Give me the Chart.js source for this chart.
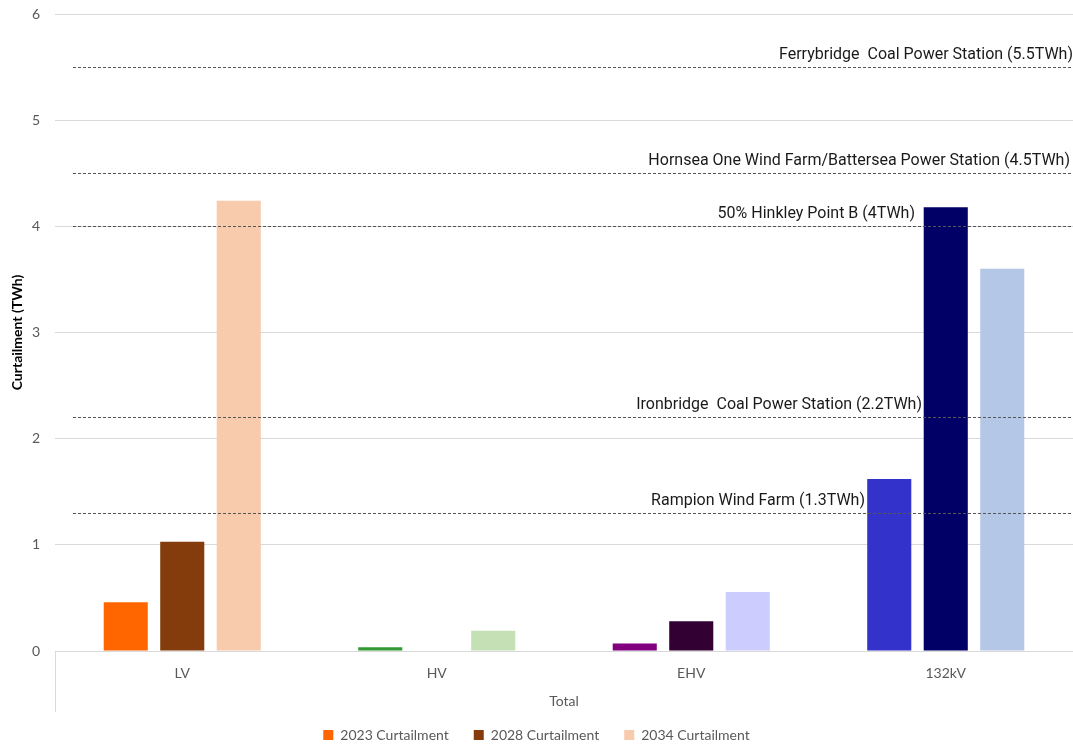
<!DOCTYPE html>
<html>
<head>
<meta charset="utf-8">
<script src="https://cdn.jsdelivr.net/npm/chart.js@4"></script>
<style>
  html, body { margin: 0; padding: 0; background: #fff; }
  #wrap { width: 1073px; height: 747px; }
</style>
</head>
<body>
<div id="wrap"><canvas id="grafico"></canvas></div>
<script>
// Dados de curtailment por nível de tensão (TWh)
const categorias = ['LV', 'HV', 'EHV', '132kV'];
const curt2023 = [0.46, 0.035, 0.07, 1.62];
const curt2028 = [1.03, 0, 0.28, 4.18];
const curt2034 = [4.24, 0.19, 0.555, 3.6];

// Cada nível de tensão tem sua própria paleta
const cores2023 = ['#FF6600', '#339933', '#800080', '#3333CC'];
const cores2028 = ['#843C0C', '#2E7D32', '#330033', '#000066'];
const cores2034 = ['#F8CBAD', '#C5E0B4', '#CCCCFF', '#B4C7E7'];

// Linhas de referência (usinas)
const refNomes = [
  'Ferrybridge  Coal Power Station (5.5TWh)',
  'Hornsea One Wind Farm/Battersea Power Station (4.5TWh)',
  '50% Hinkley Point B (4TWh)',
  'Ironbridge  Coal Power Station (2.2TWh)',
  'Rampion Wind Farm (1.3TWh)'
];
const refValores = [5.5, 4.5, 4, 2.2, 1.3];

const cinza = '#595959';

function corPorBarra(cores) {
  return c => c.type === 'data' ? cores[c.dataIndex] : cores[0];
}

// Legenda com altura fixa (o espaçamento entre itens é grande)
const alturaLegenda = {
  id: 'alturaLegenda',
  beforeUpdate(chart) {
    const lg = chart.legend;
    if (lg && !lg._alturaFixa) {
      const fitOriginal = lg.fit.bind(lg);
      lg.fit = function() {
        fitOriginal();
        this.height = 44;
      };
      lg._alturaFixa = true;
    }
  }
};

// Desenha as linhas tracejadas, o separador do eixo X e o rótulo "Total"
const linhasReferencia = {
  id: 'linhasReferencia',
  afterDatasetsDraw(chart, args, opts) {
    const { ctx, chartArea, scales: { y } } = chart;
    ctx.save();
    ctx.strokeStyle = '#555';
    ctx.lineWidth = 1;
    ctx.setLineDash([3, 2]);
    ctx.font = '16px Roboto';
    ctx.fillStyle = '#1a1a1a';
    ctx.textAlign = 'right';
    ctx.textBaseline = 'bottom';
    refValores.forEach((v, i) => {
      const py = Math.round(y.getPixelForValue(v)) + 0.5;
      ctx.beginPath();
      ctx.moveTo(chartArea.left + 18, py);
      ctx.lineTo(chartArea.right, py);
      ctx.stroke();
      ctx.fillText(refNomes[i], opts.fimRotulos[i], py - 5);
    });
    ctx.restore();
  },
  afterDraw(chart) {
    const { ctx, chartArea } = chart;
    ctx.save();
    ctx.strokeStyle = '#d9d9d9';
    ctx.lineWidth = 1;
    ctx.beginPath();
    ctx.moveTo(chartArea.left + 0.5, chartArea.bottom);
    ctx.lineTo(chartArea.left + 0.5, chartArea.bottom + 61);
    ctx.stroke();
    ctx.font = '14px Lato';
    ctx.fillStyle = cinza;
    ctx.textAlign = 'center';
    ctx.textBaseline = 'middle';
    ctx.fillText('Total', (chartArea.left + chartArea.right) / 2, chartArea.bottom + 50);
    ctx.restore();
  }
};

const ctx = document.getElementById('grafico').getContext('2d');
new Chart(ctx, {
  type: 'bar',
  data: {
    labels: categorias,
    datasets: [
      { label: '2023 Curtailment', data: curt2023, backgroundColor: corPorBarra(cores2023) },
      { label: '2028 Curtailment', data: curt2028, backgroundColor: corPorBarra(cores2028) },
      { label: '2034 Curtailment', data: curt2034, backgroundColor: corPorBarra(cores2034) }
    ]
  },
  options: {
    responsive: true,
    maintainAspectRatio: false,
    animation: false,
    layout: { padding: { top: 14, right: 0, left: 0, bottom: 0 } },
    datasets: {
      bar: { categoryPercentage: 0.666, barPercentage: 0.78 }
    },
    scales: {
      x: {
        grid: { display: false, drawTicks: false },
        border: { display: true, color: '#d9d9d9' },
        ticks: { padding: 14, color: cinza, font: { family: 'Lato', size: 14 } },
        afterFit: s => { s.height = 52; }
      },
      y: {
        min: 0,
        max: 6,
        ticks: { stepSize: 1, padding: 15, color: cinza, font: { family: 'Lato', size: 14 } },
        grid: { color: '#d9d9d9', drawTicks: false },
        border: { display: false },
        title: {
          display: true,
          text: 'Curtailment (TWh)',
          color: '#000',
          font: { family: 'Lato', size: 14, weight: 'bold' },
          padding: { top: 9, bottom: 0 }
        },
        afterFit: s => {
          s.width = 55;
          s.paddingTop = 0;
          s.paddingBottom = 0;
        }
      }
    },
    plugins: {
      legend: {
        position: 'bottom',
        labels: {
          boxWidth: 10,
          boxHeight: 10,
          padding: 25,
          color: cinza,
          font: { family: 'Lato', size: 14 }
        }
      },
      tooltip: { enabled: false },
      linhasReferencia: { fimRotulos: [1073, 1070, 915, 922, 865] }
    }
  },
  plugins: [alturaLegenda, linhasReferencia]
});
</script>
</body>
</html>
